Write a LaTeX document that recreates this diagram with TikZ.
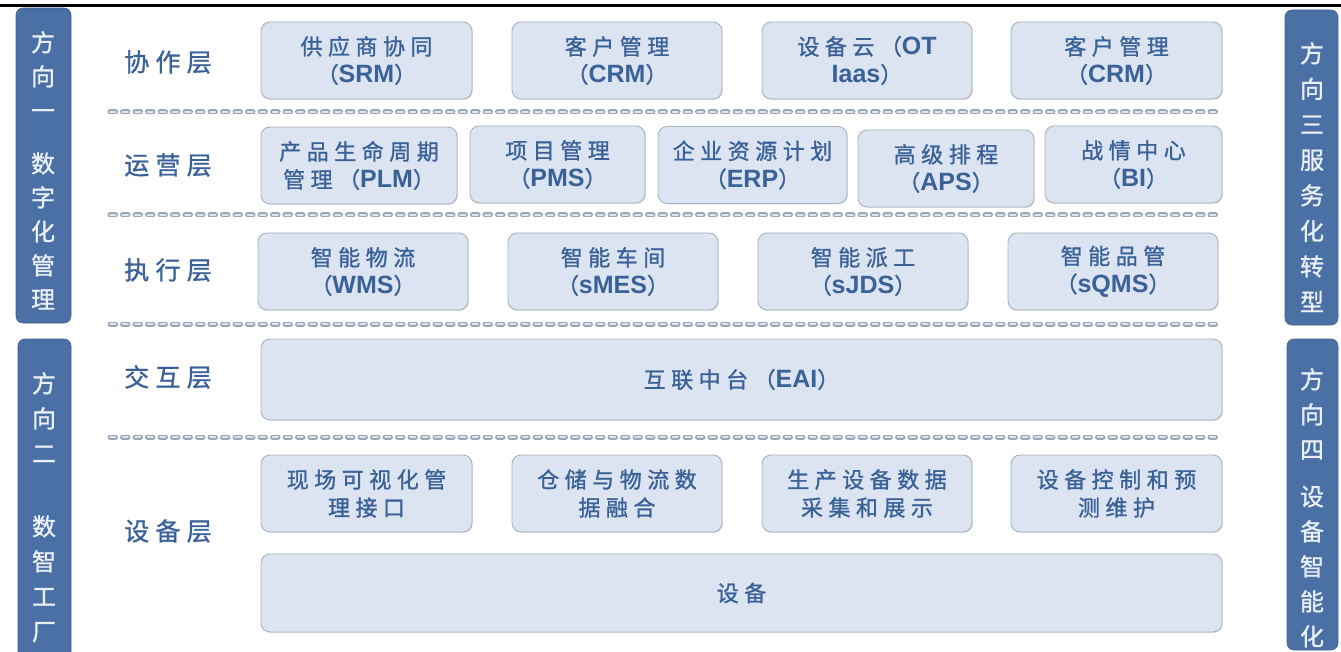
\documentclass[tikz,border=0pt]{standalone}
\usepackage{fontspec}
\setmainfont{Liberation Sans}
\newfontfamily\cjk{Noto Sans CJK SC}[LetterSpace=25, FakeBold=1.2]
\newfontfamily\cjkn{Noto Sans CJK SC}[FakeBold=1]
\usetikzlibrary{shadows}
\definecolor{sidefill}{RGB}{74,112,166}
\definecolor{sidetext}{RGB}{234,240,247}
\definecolor{boxfill}{RGB}{219,228,240}
\definecolor{boxline}{RGB}{168,178,192}
\definecolor{txt}{RGB}{58,98,152}
\definecolor{dashout}{RGB}{155,166,181}
\definecolor{dashin}{RGB}{222,229,238}
\newcommand\lt[1]{{\rmfamily\bfseries\fontsize{25}{28}\selectfont #1}}
\begin{document}
\begin{tikzpicture}[x=1pt,y=-1pt,
  modbox/.style={draw=boxline, line width=0.9pt, fill=boxfill, rounded corners=9pt,
    minimum height=77pt, inner sep=0pt, align=center, text=txt,
    font=\cjk\fontsize{22}{28}\selectfont,
    drop shadow={shadow xshift=0.8pt, shadow yshift=-0.8pt, opacity=0.22, fill=black!60}},
  sidebar/.style={fill=sidefill, draw=sidefill!85!black, line width=0.6pt, rounded corners=7pt, inner sep=0pt},
  sidetxt/.style={anchor=north, inner sep=0pt, align=center, text=sidetext},
  layer/.style={text=txt, font=\cjk\fontsize{25}{30}\selectfont, inner sep=0pt},
  sepout/.style={dashout, line width=5pt, line cap=round, dash pattern=on 5.5pt off 7pt},
  sepin/.style={dashin, line width=1.8pt, line cap=round, dash pattern=on 5.5pt off 7pt}
]
\useasboundingbox (0,0) rectangle (1341,652);

% top rule
\coordinate (tl) at (0,6);
\coordinate (tr) at (1341,6);
\draw[line width=3pt, black] (tl) -- (tr);

% side bars
\node[sidebar, minimum width=55pt, minimum height=315pt] (L1) at (43.5,165.5) {};
\node[sidebar, minimum width=53pt, minimum height=329pt] (L2) at (44.5,503.5) {};
\node[sidebar, minimum width=53pt, minimum height=315pt] (R1) at (1311.5,167.5) {};
\node[sidebar, minimum width=51pt, minimum height=311pt] (R2) at (1312.5,494.5) {};

\node[sidetxt, font=\cjkn\fontsize{24}{34}\selectfont] (L1t) at (43,31) {方\\向\\一\\[19pt]数\\字\\化\\管\\理};
\node[sidetxt, font=\cjkn\fontsize{24}{35}\selectfont] (L2t) at (44,372) {方\\向\\二\\[38pt]数\\智\\工\\厂};
\node[sidetxt, font=\cjkn\fontsize{24}{35.5}\selectfont] (R1t) at (1312,42) {方\\向\\三\\服\\务\\化\\转\\型};
\node[sidetxt, font=\cjkn\fontsize{24}{35}\selectfont] (R2t) at (1312,368) {方\\向\\四\\[12pt]设\\备\\智\\能\\化};

% separators
\foreach \y/\n in {112/a,215/b,324/c,437/d}{
  \coordinate (s\n l) at (110,\y);
  \coordinate (s\n r) at (1218,\y);
  \draw[sepout] (s\n l) -- (s\n r);
  \draw[sepin] (s\n l) -- (s\n r);
}

% layer labels
\node[layer] (lay1) at (168,62) {协作层};
\node[layer] (lay2) at (168,165) {运营层};
\node[layer] (lay3) at (168,270) {执行层};
\node[layer] (lay4) at (168,377) {交互层};
\node[layer] (lay5) at (168,531) {设备层};

% row 1
\node[modbox, minimum width=211pt] (srm) at (366.5,60.5) {供应商协同\\（\lt{SRM}）};
\node[modbox, minimum width=210pt] (crm1) at (617,60.5) {客户管理\\（\lt{CRM}）};
\node[modbox, minimum width=210pt] (ot) at (867,60.5) {设备云（\lt{OT}\\\lt{Iaas}）};
\node[modbox, minimum width=211pt] (crm2) at (1116.5,60.5) {客户管理\\（\lt{CRM}）};

% row 2
\node[modbox, minimum width=196pt] (plm) at (359,165.5) {产品生命周期\\管理（\lt{PLM}）};
\node[modbox, minimum width=175pt] (pms) at (557.5,164.5) {项目管理\\（\lt{PMS}）};
\node[modbox, minimum width=189pt] (erp) at (752.5,165) {企业资源计划\\（\lt{ERP}）};
\node[modbox, minimum width=176pt] (aps) at (946,168.5) {高级排程\\（\lt{APS}）};
\node[modbox, minimum width=177pt] (bi) at (1133.5,164.5) {战情中心\\（\lt{BI}）};

% row 3
\node[modbox, minimum width=210pt] (wms) at (363,271.5) {智能物流\\（\lt{WMS}）};
\node[modbox, minimum width=210pt] (smes) at (613,271.5) {智能车间\\（\lt{sMES}）};
\node[modbox, minimum width=210pt] (sjds) at (863,271.5) {智能派工\\（\lt{sJDS}）};
\node[modbox, minimum width=210pt] (sqms) at (1113,271.5) {智能品管\\（\lt{sQMS}）};

% row 4
\node[modbox, minimum width=961pt, minimum height=81pt] (eai) at (741.5,379.5) {互联中台（\lt{EAI}）};

% row 5
\node[modbox, minimum width=211pt] (d1) at (366.5,493.5) {现场可视化管\\理接口};
\node[modbox, minimum width=210pt] (d2) at (617,493.5) {仓储与物流数\\据融合};
\node[modbox, minimum width=210pt] (d3) at (867,493.5) {生产设备数据\\采集和展示};
\node[modbox, minimum width=211pt] (d4) at (1116.5,493.5) {设备控制和预\\测维护};
\node[modbox, minimum width=961pt, minimum height=78pt] (dev) at (741.5,593) {设备};
\end{tikzpicture}
\end{document}
